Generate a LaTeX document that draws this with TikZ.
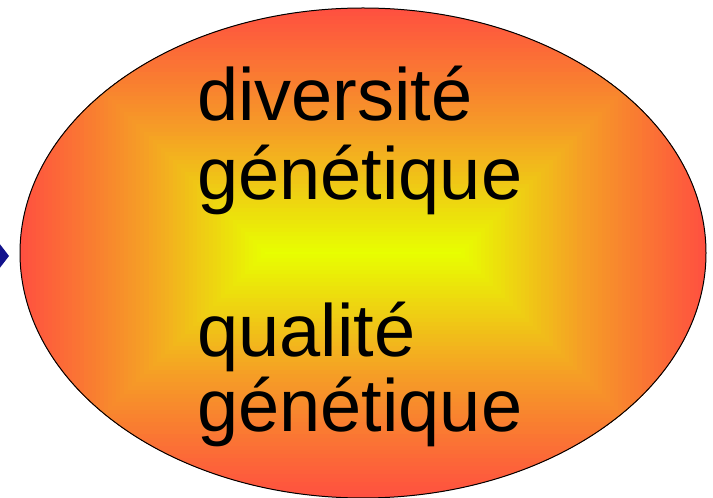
\documentclass[tikz,border=0pt]{standalone}
\usepackage{fontspec}
\setmainfont{Liberation Sans}
\usepackage{tikz}
\usetikzlibrary{shapes.geometric, arrows.meta, positioning}
\definecolor{PoolCore}{HTML}{E8FF00}
\definecolor{PoolMid}{HTML}{F5A025}
\definecolor{PoolRim}{HTML}{FF5040}
\definecolor{LinkNavy}{HTML}{12128C}
\tikzset{
    every node/.style={font=\small},
    % Gene pool ellipse
    pool/.style={
        ellipse,
        draw=black,
        line width=1pt,
        minimum width=686pt,
        minimum height=490pt,
        inner sep=0pt
    },
    % Big label
    biglabel/.style={
        anchor=base west,
        inner sep=0pt,
        text=black,
        font=\fontsize{74}{80}\selectfont
    },
    % Arrow style
    arrow/.style={
        -{Kite[length=20pt, width=26pt, inset=10pt]},
        line width=3pt,
        color=LinkNavy
    }
}

\begin{document}
\begin{tikzpicture}[x=1pt, y=1pt]
        \useasboundingbox (0,0) rectangle (713,498);

        % Incoming arrow
        \coordinate (src) at (-60,242);
        \coordinate (tip) at (9,242);
        \draw[arrow] (src) -- (tip);

        % Gene pool with rectangular gradient
        \node (pool) [pool, path picture={
            \foreach \d in {245,241,...,121} {
                \pgfmathtruncatemacro\p{(\d-120)*100/125}
                \fill[PoolRim!\p!PoolMid, shift={(path picture bounding box.center)}]
                    (-98-\d,-\d) rectangle (98+\d,\d);
            }
            \foreach \d in {120,116,...,0} {
                \pgfmathtruncatemacro\p{\d*100/120}
                \fill[PoolMid!\p!PoolCore, shift={(path picture bounding box.center)}]
                    (-98-\d,-\d-1) rectangle (98+\d,\d+1);
            }
        }] at (363,245) {};

        % Labels
        \node (divers) [biglabel] at (197,377) {diversité};
        \node (genA) [biglabel] at (197,298) {génétique};
        \node (qual) [biglabel] at (197,141) {qualité};
        \node (genB) [biglabel] at (197,66) {génétique};
    \end{tikzpicture}
\end{document}
